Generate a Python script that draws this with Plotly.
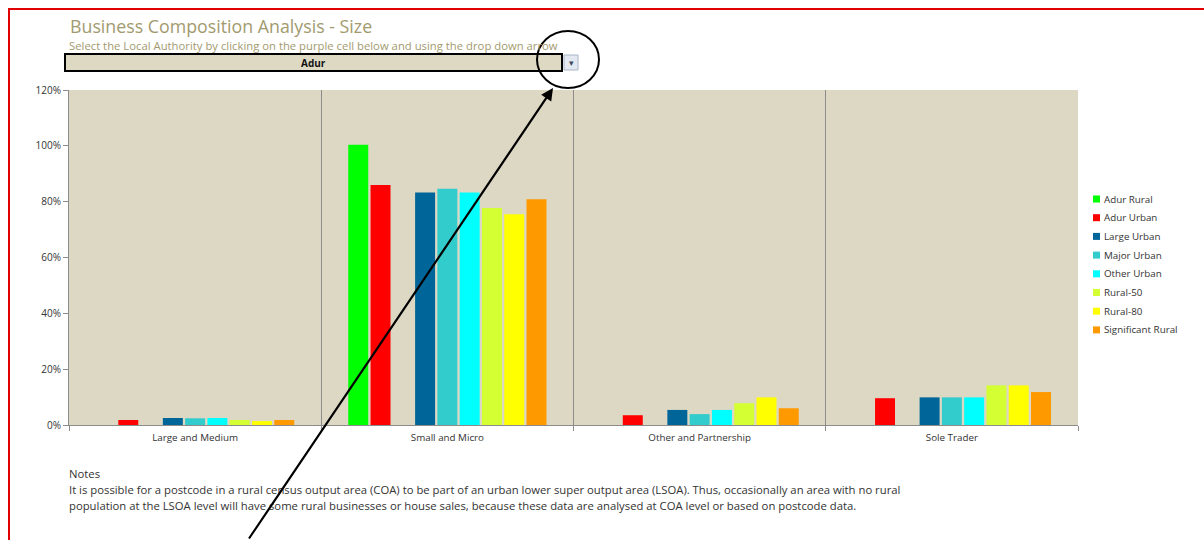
import plotly.graph_objects as go

categories = ["Large and Medium", "Small and Micro", "Other and Partnership", "Sole Trader"]
legend_names = ["Adur Rural", "Adur Urban", "Large Urban", "Major Urban",
                "Other Urban", "Rural-50", "Rural-80", "Significant Rural"]
adur_rural = [None, 1.004, None, None]
adur_urban = [0.018, 0.860, 0.035, 0.096]
blank_series = [None, None, None, None]  # empty series slot in the original chart
large_urban = [0.025, 0.833, 0.054, 0.099]
major_urban = [0.024, 0.846, 0.039, 0.099]
other_urban = [0.025, 0.833, 0.054, 0.099]
rural_50 = [0.018, 0.777, 0.078, 0.142]
rural_80 = [0.014, 0.755, 0.099, 0.142]
significant_rural = [0.018, 0.809, 0.060, 0.118]
series_names = ["Adur Rural", "Adur Urban", "", "Large Urban", "Major Urban",
                "Other Urban", "Rural-50", "Rural-80", "Significant Rural"]
series_values = [adur_rural, adur_urban, blank_series, large_urban, major_urban,
                 other_urban, rural_50, rural_80, significant_rural]
series_colors = ["#00FF00", "#FF0000", "#FFFFFF", "#006699", "#33CCCC",
                 "#00FFFF", "#D4FF33", "#FFFF00", "#FF9900"]
legend_colors = ["#00FF00", "#FF0000", "#006699", "#33CCCC",
                 "#00FFFF", "#D4FF33", "#FFFF00", "#FF9900"]
y_tick_vals = [0, 0.2, 0.4, 0.6, 0.8, 1.0, 1.2]
y_tick_text = ["0%", "20%", "40%", "60%", "80%", "100%", "120%"]

title_text = "Business Composition Analysis - Size"
subtitle_text = "Select the Local Authority by clicking on the purple cell below and using the drop down arrow"
selected_la = "Adur"
notes_title = "Notes"
notes_lines = [
    "It is possible for a postcode in a rural census output area (COA) to be part of an urban lower super output area (LSOA). Thus, occasionally an area with no rural",
    "population at the LSOA level will have some rural businesses or house sales, because these data are analysed at COA level or based on postcode data.",
]

W, H = 1204, 540
L, R, T, B = 69, 1078, 90, 425


def px(xp):
    return (xp - L) / (R - L)


def py(yp):
    return (B - yp) / (B - T)


fig = go.Figure()
for name, vals, col in zip(series_names, series_values, series_colors):
    fig.add_trace(go.Bar(name=name, x=categories, y=vals, marker_color=col,
                         marker_line_width=0, showlegend=False))

shapes = [
    # outer red frame
    dict(type="rect", xref="paper", yref="paper", x0=px(9), x1=px(1215),
         y0=py(552), y1=py(9), line=dict(color="#E00000", width=2), layer="below"),
    # drop-down cell
    dict(type="rect", xref="paper", yref="paper", x0=px(65), x1=px(562),
         y0=py(71), y1=py(54), fillcolor="#DDD9C3", line=dict(color="black", width=2)),
    # drop-down button
    dict(type="rect", xref="paper", yref="paper", x0=px(564), x1=px(578),
         y0=py(70), y1=py(55), fillcolor="#E4E8F0", line=dict(color="#A9B4C6", width=1)),
    # circle
    dict(type="circle", xref="paper", yref="paper", x0=px(537), x1=px(599),
         y0=py(88), y1=py(31), line=dict(color="black", width=2)),
]

ann = [
    dict(text=title_text, x=px(68), y=py(26), xanchor="left", yanchor="middle",
         font=dict(family="Open Sans", size=17.8, color="#A29A6E")),
    dict(text=subtitle_text, x=px(67), y=py(46), xanchor="left", yanchor="middle",
         font=dict(family="Open Sans", size=11.3, color="#A29A6E")),
    dict(text="<b>" + selected_la + "</b>", x=px(313), y=py(62.5), xanchor="center", yanchor="middle",
         font=dict(family="Open Sans", size=10, color="#111111")),
    dict(text="▾", x=px(571), y=py(62.5), xanchor="center", yanchor="middle",
         font=dict(family="DejaVu Sans", size=9, color="#404A5C")),
    dict(text=notes_title, x=px(67), y=py(473), xanchor="left", yanchor="middle",
         font=dict(family="Open Sans", size=11.3, color="#333333")),
    dict(text=notes_lines[0], x=px(67), y=py(489), xanchor="left", yanchor="middle",
         font=dict(family="Open Sans", size=11.3, color="#333333")),
    dict(text=notes_lines[1], x=px(67), y=py(505), xanchor="left", yanchor="middle",
         font=dict(family="Open Sans", size=11.3, color="#333333")),
    dict(text="", x=px(553), y=py(88), showarrow=True, arrowhead=2, arrowsize=1.1,
         arrowwidth=2.2, arrowcolor="black", ax=248 - 553, ay=545 - 88, standoff=0),
]

# manual legend (small swatches like the original)
leg_top, leg_step = 199, 18.7
for i, (name, col) in enumerate(zip(legend_names, legend_colors)):
    yc = leg_top + i * leg_step
    shapes.append(dict(type="rect", xref="paper", yref="paper",
                       x0=px(1093), x1=px(1100), y0=py(yc + 3.5), y1=py(yc - 3.5),
                       fillcolor=col, line=dict(width=0)))
    ann.append(dict(text=name, x=px(1102), y=py(yc), xanchor="left", yanchor="middle",
                    font=dict(family="Open Sans", size=9.8, color="#333333")))

for a in ann:
    a.setdefault("xref", "paper")
    a.setdefault("yref", "paper")
    a.setdefault("showarrow", False)
fig.update_layout(shapes=shapes, annotations=ann)

fig.update_layout(
    width=W, height=H,
    margin=dict(l=L, r=W - R, t=T, b=H - B, pad=0),
    paper_bgcolor="white",
    plot_bgcolor="#DDD8C4",
    barmode="group",
    bargap=0.205,
    bargroupgap=0.103,
    font=dict(family="Open Sans", size=9, color="#333333"),
    showlegend=False,
    xaxis=dict(showgrid=True, gridcolor="#8C8C8C", gridwidth=1,
               tickson="boundaries", ticks="outside", ticklen=5, tickcolor="#8C8C8C",
               showline=True, linecolor="#8C8C8C", linewidth=1, ticklabelstandoff=3,
               tickfont=dict(size=9.8, color="#333333"), fixedrange=True),
    yaxis=dict(range=[0, 1.2], tickvals=y_tick_vals, ticktext=y_tick_text,
               showgrid=False, zeroline=False, ticks="outside", ticklen=5,
               tickcolor="#8C8C8C", showline=True, linecolor="#8C8C8C", linewidth=1,
               tickfont=dict(size=10, color="#333333"), fixedrange=True),
)

fig.write_html("out.html", config={"displayModeBar": False},
               post_script="document.body.style.margin='0px';")
